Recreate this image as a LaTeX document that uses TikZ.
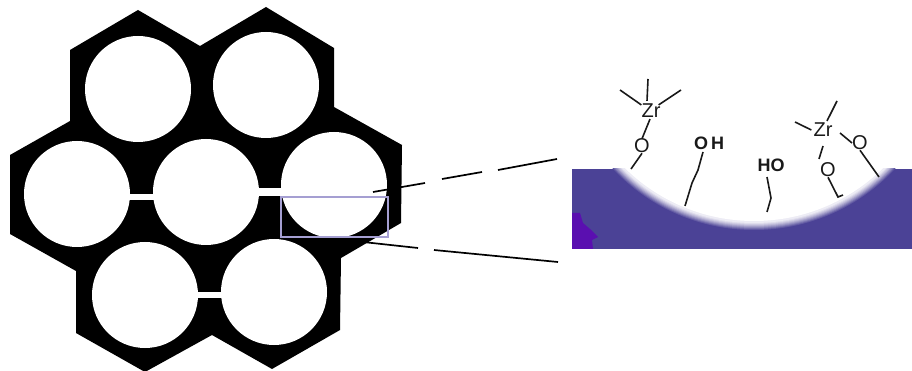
\documentclass[tikz,border=0pt]{standalone}
\usepackage{fontspec}
\setsansfont{Liberation Sans}

\definecolor{wallblue}{HTML}{4B4296}
\definecolor{spotviolet}{HTML}{5A0FB0}
\definecolor{boxlilac}{HTML}{A59FD2}

\tikzset{
	pore/.style={fill=white},
	bond/.style={line width=1.6pt, color=black!90},
	atom/.style={font=\sffamily\fontsize{20}{20}\selectfont, inner sep=0pt, text=black!90},
	hydroxyl/.style={atom, font=\sffamily\bfseries\fontsize{18}{18}\selectfont},
	guide/.style={line width=1.7pt, color=black}
}

\begin{document}
\begin{tikzpicture}[x=1pt, y=-1pt]
		\useasboundingbox (0,0) rectangle (912,371);
		% honeycomb wall and the seven channels
		\fill[black] (138,10) -- (70,50) -- (70,121) -- (10,155) -- (10,234) -- (76,271) -- (76,333) -- (145,372) -- (212,335) -- (272,369) -- (340,330) -- (341,258) -- (401,223) -- (402,145) -- (334,107) -- (334,48) -- (266,7) -- (200,46) -- cycle;
		\foreach \cx/\cy in {138/89, 266/85, 77/194, 206/192, 334/185, 145/295, 274/292}
			\fill[pore] (\cx,\cy) circle (53);
		% thin openings between neighbouring channels
		\fill[pore] (128,194) rectangle (156,200);
		\fill[pore] (256,188) rectangle (285,196);
		\fill[pore] (196,292) rectangle (224,298);
		\node[draw=boxlilac, line width=1.8pt, inner sep=0pt, minimum width=107pt, minimum height=40pt] (window) at (334.5,217) {};
		% enlarged channel wall
		\fill[wallblue] (572,169) rectangle (912,249);
		\begin{scope}
			\clip (572,169) rectangle (912,249);
			\foreach \rad/\tint in {193/12, 192/25, 191/38, 190/50, 189/62, 188/72, 187/82, 186/90, 184/100}
				\fill[white!\tint!wallblue] (754,37) circle (\rad);
		\end{scope}
		\fill[spotviolet] (572,213) -- (580,213) -- (583,223) -- (590,229) -- (598,237) -- (592,240) -- (593,249) -- (572,249) -- cycle;
		% zoom lines
		\coordinate (topend) at (557,159);
		\coordinate (botend) at (558,262);
		\draw[guide] (373,192) -- (425,183) (442,179) -- (482,172) (498,170) -- (topend);
		\draw[guide] (363,242) -- (418,248) (434,250) -- (botend);
		% first zirconium group
		\node[atom] (zra) at (651,111) {Zr};
		\node[atom] (oa) at (642,146) {O};
		\coordinate (surfa) at (631,169);
		\draw[bond] (zra.north) ++(-4,-3) -- (648,79);
		\draw[bond] (zra.north west) ++(0,1) -- (620,90);
		\draw[bond] (zra.north east) ++(-2,1) -- (681,90);
		\draw[bond] (zra.south) ++(-1,1) -- (oa.north);
		\draw[bond] (oa.south) -- (surfa);
		% free hydroxyl groups
		\node[hydroxyl] (oh) at (709,143) {O\kern3pt H};
		\coordinate (surfb) at (685,206);
		\draw[bond] (703,152) -- (698,170) -- (692,183) -- (surfb);
		\node[hydroxyl] (ho) at (771,165) {HO};
		\coordinate (surfc) at (767,212);
		\draw[bond] (767,177) -- (771,198) -- (surfc);
		% second zirconium group
		\node[atom] (zrb) at (823,130) {Zr};
		\node[atom] (ob) at (860,143) {O};
		\node[atom] (oc) at (828,170) {O};
		\coordinate (surfd) at (879,177);
		\coordinate (surfe) at (843,195);
		\draw[bond] (zrb.north) ++(4,-2) -- (837,101);
		\draw[bond] (zrb.west) ++(-2,0) -- (795,122);
		\draw[bond] (840,133) -- (ob.west);
		\draw[bond] (ob.south) -- (surfd);
		\draw[bond] (823,146) -- (819,159);
		\draw[bond] (oc.south) -- (838,197) -- (surfe);
		\end{tikzpicture}
\end{document}
